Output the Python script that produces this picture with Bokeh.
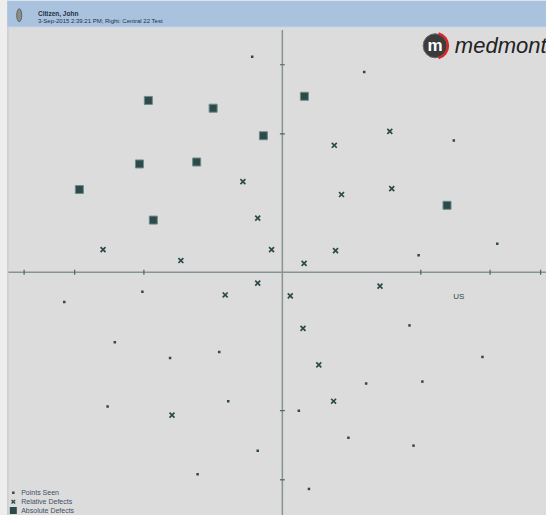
from bokeh.plotting import figure
from bokeh.models import Range1d
from bokeh.core.properties import value
from bokeh.embed import file_html
from bokeh.resources import INLINE

# ---- data (degrees from fixation) ----
abs_x = [-9.68, -5.0, 1.59, -1.37, -10.32, -6.19, -14.66, -9.32, 11.89]
abs_y = [12.42, 11.86, 12.72, 9.87, 7.83, 7.97, 5.98, 3.77, 4.84]

rel_x = [7.76, 3.75, -2.85, 4.27, 7.90, -1.78, -12.95, -7.33, -0.78, 1.57,
         3.84, -1.78, -4.13, 0.57, 7.05, 1.49, 2.63, 3.70, -7.97]
rel_y = [10.18, 9.18, 6.55, 5.62, 6.05, 3.91, 1.64, 0.85, 1.64, 0.64,
         1.57, -0.78, -1.64, -1.71, -1.00, -4.06, -6.69, -9.32, -10.32]

seen_x = [-2.18, 5.91, 12.38, 15.52, 9.84, -15.75, -10.11, -12.10, -8.11, -4.56,
          9.18, 14.45, 10.11, 6.05, -12.62, -3.91, 1.19, 4.77, -1.78, 9.47,
          -6.12, 1.92]
seen_y = [15.57, 14.47, 9.52, 2.06, 1.23, -2.14, -1.40, -5.05, -6.19, -5.77,
          -3.84, -6.12, -7.90, -8.04, -9.70, -9.32, -10.01, -11.96, -12.90, -12.53,
          -14.59, -15.66]

us_x = [12.74]
us_y = [-1.78]
us_label = ["US"]

tick_vals = [10, 15, 18.65]

legend_labels = ["Points Seen", "Relative Defects", "Absolute Defects"]
header_name = "Citizen, John"
header_info = "3-Sep-2015 2:39:21 PM; Right: Central 22 Test"

# ---- figure ----
S = 14.05
X0, X1 = -286 / S, (554 - 286) / S
Y0, Y1 = -(523 - 276) / S, 276 / S

def sx(px):
    return (px - 286) / S

def sy(py):
    return (276 - py) / S

p = figure(width=546, height=515, x_range=Range1d(X0, X1), y_range=Range1d(Y0, Y1),
           output_backend="svg", toolbar_location=None, min_border=0)
p.axis.visible = False
p.grid.visible = False
p.outline_line_color = None
p.background_fill_color = "#dcdcdc"
p.border_fill_color = "#dcdcdc"

DARK = "#2c4a4a"
AXC = "#869593"
FONT = value("Liberation Sans")

# left light strip
p.quad(left=[X0], right=[sx(7)], top=[Y1], bottom=[Y0], fill_color="#eeeeee", line_color=None)
p.segment(x0=[sx(7.5)], x1=[sx(7.5)], y0=[Y1], y1=[Y0], line_color="#c4c4c4", line_width=1)

# header bar
p.quad(left=[sx(7)], right=[X1], top=[Y1], bottom=[sy(27)], fill_color="#a9c3df",
       line_color=None)
p.segment(x0=[sx(7)], x1=[X1], y0=[sy(27)], y1=[sy(27)], line_color="#c8d8ea", line_width=1)
# header icon
p.ellipse(x=[sx(19)], y=[sy(15)], width=[5 / S], height=[13 / S], fill_color="#8a8f8c",
          line_color="#5d625f", line_width=1)
p.text(x=[sx(38)], y=[sy(13)], text=[header_name], text_font_size="6.5px",
       text_font_style="bold", text_color="#1f2f44", text_baseline="middle",
       text_font=FONT)
p.text(x=[sx(38)], y=[sy(21)], text=[header_info], text_font_size="6px",
       text_color="#1f2f44", text_baseline="middle", text_font=FONT)

# logo
p.scatter(x=[sx(441)], y=[sy(46)], size=24, marker="circle", fill_color="#3c3c3c",
          line_color="#6a6a6a", line_width=1)
p.arc(x=[sx(441)], y=[sy(46)], radius=13 / S, start_angle=-1.3, end_angle=1.3,
      line_color="#d8262b", line_width=2.5)
p.text(x=[sx(441)], y=[sy(46)], text=["m"], text_font_size="17px", text_color="white",
       text_align="center", text_baseline="middle", text_font_style="bold",
       text_font=FONT)
p.text(x=[sx(461)], y=[sy(46)], text=["medmont"], text_font_size="22px",
       text_color="#222222", text_baseline="middle", text_font_style="italic",
       text_font=FONT)

# axes lines
p.segment(x0=[sx(8)], x1=[X1], y0=[0], y1=[0], line_color=AXC, line_width=1.5)
p.segment(x0=[0], x1=[0], y0=[sy(30)], y1=[Y0], line_color=AXC, line_width=1.5)

# ticks
tx = [s * t for t in tick_vals for s in (-1, 1)]
h = 2.5 / S
p.segment(x0=tx, x1=tx, y0=[-h] * len(tx), y1=[h] * len(tx), line_color="#4f6463",
          line_width=1.2)
ty = [s * t for t in tick_vals[:2] for s in (-1, 1)]
p.segment(x0=[-h] * len(ty), x1=[h] * len(ty), y0=ty, y1=ty, line_color="#4f6463",
          line_width=1.2)

# data points
p.scatter(x=seen_x, y=seen_y, marker="square", size=2.5, fill_color=DARK, line_color=None)
p.scatter(x=rel_x, y=rel_y, marker="x", size=7, line_color=DARK, line_width=1.7)
p.scatter(x=abs_x, y=abs_y, marker="square", size=8, fill_color=DARK,
          line_color="#6f8a88", line_width=1)
p.text(x=us_x, y=us_y, text=us_label, text_font_size="8px", text_color="#2f4a4a",
       text_align="center", text_baseline="middle", text_font=FONT)

# legend
ly = [sy(500), sy(509), sy(518)]
lx = sx(13)
p.scatter(x=[lx], y=[ly[0]], marker="square", size=2.5, fill_color=DARK, line_color=None)
p.scatter(x=[lx], y=[ly[1]], marker="x", size=5, line_color=DARK, line_width=1.4)
p.scatter(x=[lx], y=[ly[2]], marker="square", size=7, fill_color=DARK, line_color=None)
p.text(x=[sx(21)] * 3, y=ly, text=legend_labels, text_font_size="7px",
       text_color="#3f5068", text_baseline="middle", text_font=FONT)

open("out.html", "w").write(file_html(p, INLINE))
